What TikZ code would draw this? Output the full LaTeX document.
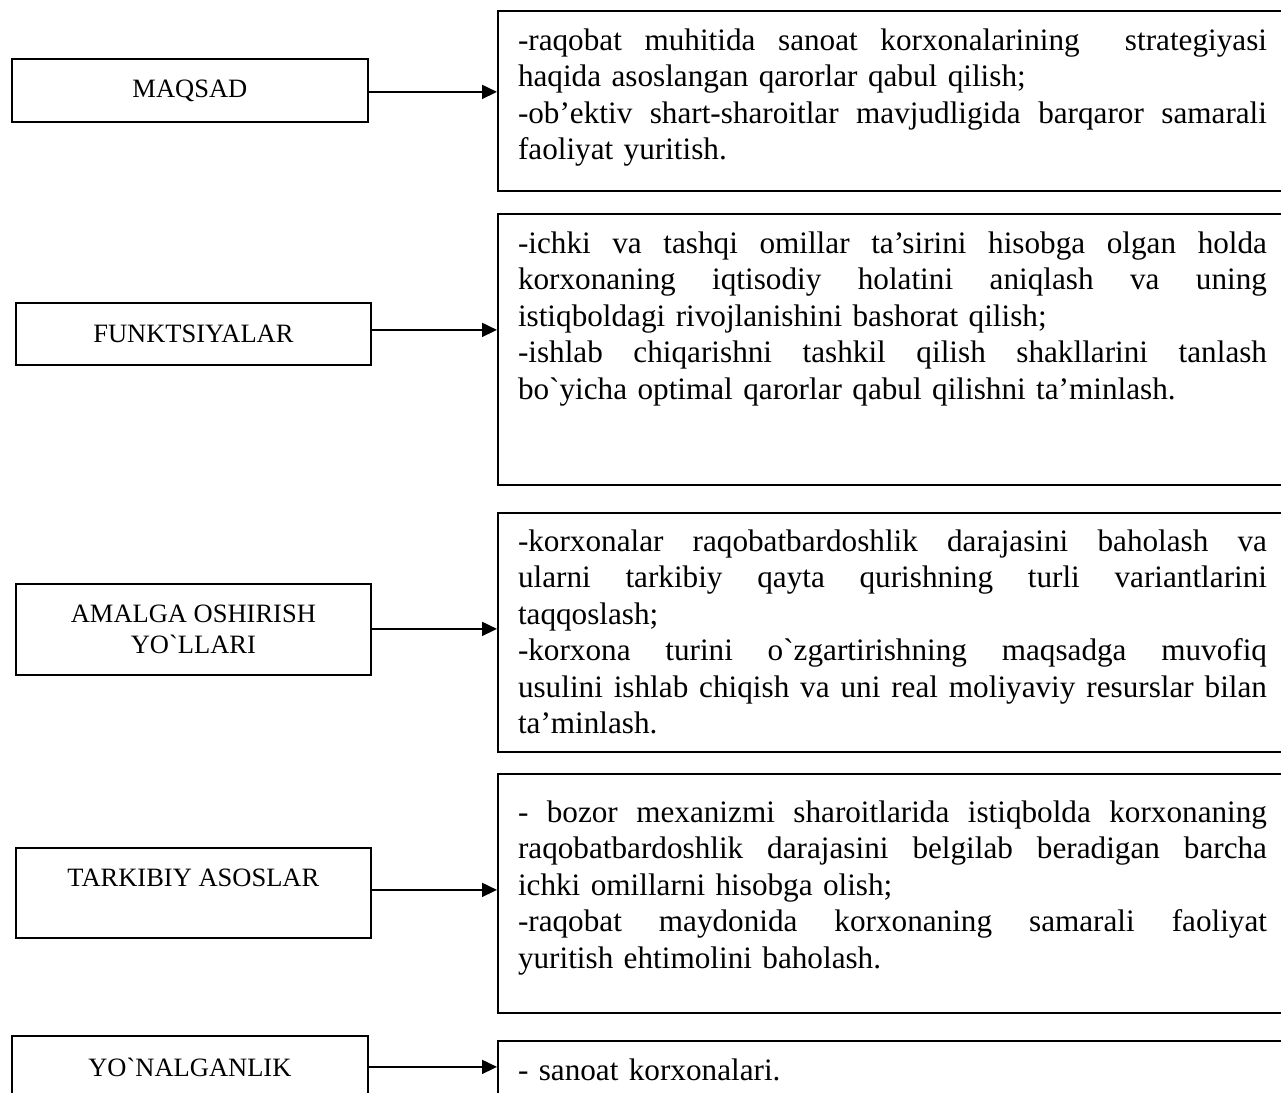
\documentclass[tikz,border=0pt]{standalone}
\usepackage{fontspec}
\setmainfont{Liberation Serif}[Ligatures=TeXOff]
\usetikzlibrary{arrows.meta}
\setlength{\parindent}{0pt}
\newlength{\rtw}
\setlength{\rtw}{749pt}
\newcommand{\jl}[1]{\leavevmode{\spaceskip=0.25em plus 1fil\relax\xspaceskip=0.25em plus 1fil\relax\hbox to \rtw{#1}}}
\newcommand{\fst}{\rule{0pt}{28pt}}
\begin{document}
\begin{tikzpicture}[x=1pt,y=-1pt,
  lbox/.style={draw, line width=1.8pt, rectangle, anchor=north west, inner sep=0pt,
    minimum width=356pt, align=center, font=\fontsize{26.5pt}{30.5pt}\selectfont},
  rbox/.style={draw, line width=1.8pt, rectangle, anchor=north west, inner sep=0pt,
    minimum width=810pt},
  rtext/.style={anchor=north west, inner sep=0pt, outer sep=0pt, text width=\rtw,
    align=left, font=\fontsize{31.2pt}{36.5pt}\selectfont},
  arr/.style={line width=1.8pt, -{Triangle[length=15pt,width=14pt]}}]
\useasboundingbox (0,0) rectangle (1281,1092);
\clip (0,0) rectangle (1281,1092);
\fill[white] (0,0) rectangle (1281,1092);

% left boxes
\node[lbox, minimum height=63pt] (l1) at (11,58) {MAQSAD};
\node[lbox, minimum width=355pt, minimum height=62pt] (l2) at (15,302) {FUNKTSIYALAR};
\node[lbox, minimum width=355pt, minimum height=91pt] (l3) at (15,583) {AMALGA OSHIRISH\\YO`LLARI};
\node[lbox, minimum width=355pt, minimum height=90pt] (l4) at (15,847) {TARKIBIY ASOSLAR\\\mbox{}};
\node[lbox, minimum height=62pt] (l5) at (11,1035) {YO`NALGANLIK};

% right boxes
\node[rbox, minimum height=180pt] (r1) at (497,10) {};
\node[rbox, minimum height=271pt] (r2) at (497,213) {};
\node[rbox, minimum height=239pt] (r3) at (497,512) {};
\node[rbox, minimum height=239pt] (r4) at (497,773) {};
\node[rbox, minimum height=90pt] (r5) at (497,1040) {};

% right texts
\node[rtext] (t1) at (518,22) {%
\jl{\fst-raqobat muhitida sanoat korxonalarining\ \ strategiyasi}\\
haqida asoslangan qarorlar qabul qilish;\\
\jl{-ob’ektiv shart-sharoitlar mavjudligida barqaror samarali}\\
faoliyat yuritish.};

\node[rtext] (t2) at (518,225) {%
\jl{\fst-ichki va tashqi omillar ta’sirini hisobga olgan holda}\\
\jl{korxonaning iqtisodiy holatini aniqlash va uning}\\
istiqboldagi rivojlanishini bashorat qilish;\\
\jl{-ishlab chiqarishni tashkil qilish shakllarini tanlash}\\
bo`yicha optimal qarorlar qabul qilishni ta’minlash.};

\node[rtext] (t3) at (518,523) {%
\jl{\fst-korxonalar raqobatbardoshlik darajasini baholash va}\\
\jl{ularni tarkibiy qayta qurishning turli variantlarini}\\
taqqoslash;\\
\jl{-korxona turini o`zgartirishning maqsadga muvofiq}\\
\jl{usulini ishlab chiqish va uni real moliyaviy resurslar bilan}\\
ta’minlash.};

\node[rtext] (t4) at (518,794) {%
\jl{\fst- bozor mexanizmi sharoitlarida istiqbolda korxonaning}\\
\jl{raqobatbardoshlik darajasini belgilab beradigan barcha}\\
ichki omillarni hisobga olish;\\
\jl{-raqobat maydonida korxonaning samarali faoliyat}\\
yuritish ehtimolini baholash.};

\node[rtext] (t5) at (518,1052) {\fst- sanoat korxonalari.};

% arrows
\draw[arr] ([yshift=-1.5pt]l1.east) -- ([yshift=-1.5pt]l1.east -| r1.west);
\draw[arr] ([yshift=4pt]l2.east) -- ([yshift=4pt]l2.east -| r2.west);
\draw[arr] ([yshift=0.5pt]l3.east) -- ([yshift=0.5pt]l3.east -| r3.west);
\draw[arr] ([yshift=3pt]l4.east) -- ([yshift=3pt]l4.east -| r4.west);
\draw[arr] (l5.east) -- (l5.east -| r5.west);
\end{tikzpicture}
\end{document}
